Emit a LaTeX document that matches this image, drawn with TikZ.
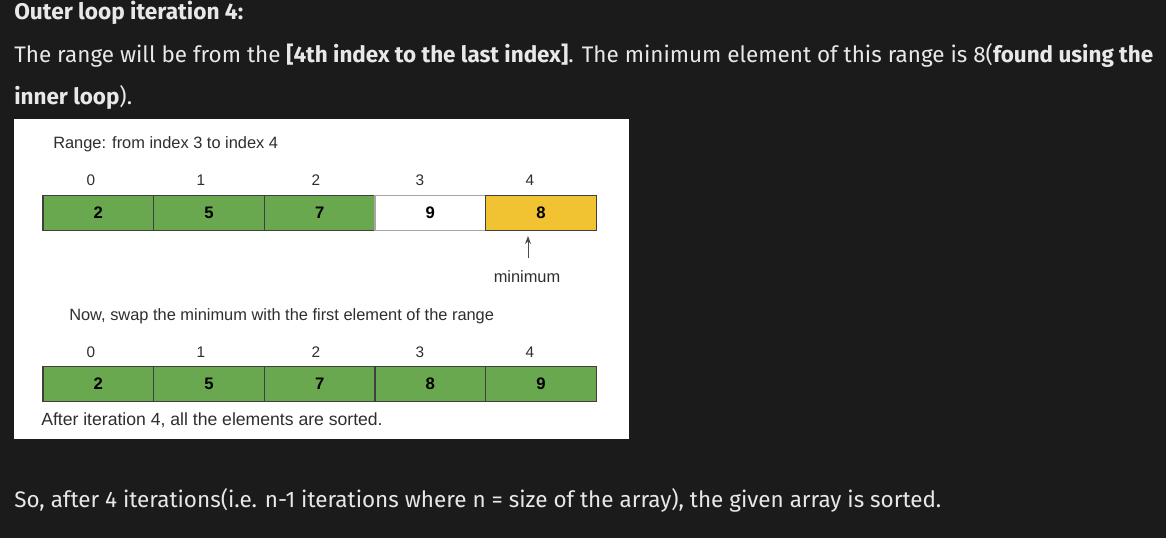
\documentclass[tikz,border=0pt]{standalone}
\usepackage{fontspec}
\setmainfont{Fira Sans}
\newfontfamily\arial{Liberation Sans}
\definecolor{bg}{HTML}{1B1B1B}
\definecolor{fg}{HTML}{E8E8E8}
\definecolor{cgreen}{HTML}{6AA84F}
\definecolor{cyellow}{HTML}{F1C232}
\definecolor{dtext}{HTML}{2E2E2E}
\definecolor{cellline}{HTML}{3F3F3F}
\tikzset{
  para/.style={anchor=base west, inner sep=0pt, text=fg, font=\fontsize{16.85}{20}\selectfont},
  dlabel/.style={anchor=base west, inner sep=0pt, text=dtext, font=\arial\fontsize{12.3}{14}\selectfont},
  idx/.style={anchor=base, inner sep=0pt, text=dtext, font=\arial\fontsize{11.5}{13}\selectfont},
  cell/.style={draw=cellline, line width=0.9pt, minimum width=83pt, minimum height=26.25pt, inner sep=0pt, anchor=north west, font=\arial\bfseries\fontsize{12.5}{14}\selectfont, text=black},
  gcell/.style={cell, fill=cgreen},
  ycell/.style={cell, fill=cyellow},
  wcell/.style={cell, fill=white, draw=gray!70},
  arr/.style={-{Stealth[length=6pt,width=4.5pt]}, draw=black!70, line width=0.75pt}
}
\usetikzlibrary{arrows.meta}
\begin{document}
\begin{tikzpicture}[x=0.75pt, y=-0.75pt]
\fill[bg] (0,0) rectangle (1166,538);
\useasboundingbox (0,0) rectangle (1166,538);
\node[para, font=\bfseries\fontsize{17}{20}\selectfont] (t1) at (14,20) {Outer loop iteration 4:};
\node[para] (t2) at (14,63) {The range will be from the \textbf{[4th index to the last index]}. The minimum element of this range is 8(\textbf{found using the}};
\node[para] (t3) at (14,105) {\textbf{inner loop}).};
\node[para] (t4) at (14,507) {So, after 4 iterations(i.e. n-1 iterations where n = size of the array), the given array is sorted.};
% panel
\fill[white] (14,119) rectangle (629,439);
\node[dlabel] (range) at (53,149) {Range: from index 3 to index 4};
% row 1
\node[idx] (a0) at (91,186) {0};
\node[idx] (a1) at (201,186) {1};
\node[idx] (a2) at (316,186) {2};
\node[idx] (a3) at (420,186) {3};
\node[idx] (a4) at (530,186) {4};
\node[gcell] (c0) at (42.3,195) {2};
\node[gcell] (c1) at (153,195) {5};
\node[gcell] (c2) at (263.7,195) {7};
\node[wcell] (c3) at (374.4,195) {9};
\node[ycell] (c4) at (485.1,195) {8};
\node[idx, font=\arial\fontsize{12.3}{14}\selectfont] (minlbl) at (527,282) {minimum};
\coordinate (arrS) at (528,258);
\coordinate (arrE) at (528,236);
\draw[arr] (arrS) -- (arrE);
\node[dlabel] (swap) at (69,320) {Now, swap the minimum with the first element of the range};
% row 2
\node[idx] (b0) at (91,357) {0};
\node[idx] (b1) at (201,357) {1};
\node[idx] (b2) at (316,357) {2};
\node[idx] (b3) at (420,357) {3};
\node[idx] (b4) at (530,357) {4};
\node[gcell] (d0) at (42.3,366) {2};
\node[gcell] (d1) at (153,366) {5};
\node[gcell] (d2) at (263.7,366) {7};
\node[gcell] (d3) at (374.4,366) {8};
\node[gcell] (d4) at (485.1,366) {9};
\node[dlabel, font=\arial\fontsize{13.2}{15}\selectfont] (after) at (41,425) {After iteration 4, all the elements are sorted.};
\end{tikzpicture}
\end{document}
